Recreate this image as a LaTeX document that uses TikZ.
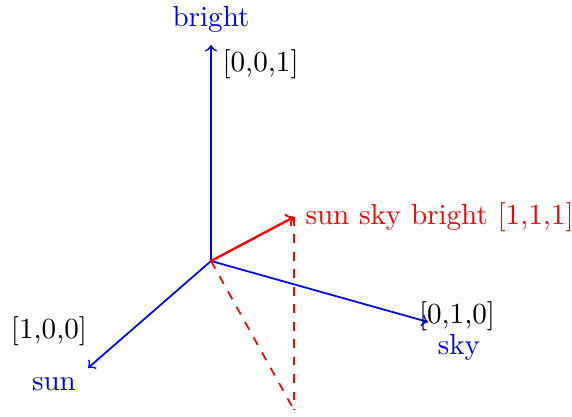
\documentclass[tikz,border=0pt]{standalone}
\usepackage{tikz}
\usetikzlibrary{positioning}
\tikzset{
  axis/.style={->,semithick,blue},
  vec/.style={->,thick,red},
  proj/.style={dashed,semithick,red},
  axislabel/.style={text=blue,inner sep=0pt},
  coordlabel/.style={text=black,inner sep=0pt}
}
\begin{document}
\begin{tikzpicture}[x=0.3436pt,y=-0.3436pt]
  \useasboundingbox (0,0) rectangle (572,417);

  % axes
  \coordinate (origin) at (211,261);
  \coordinate (bright-tip) at (211,45);
  \coordinate (sun-tip) at (88,368);
  \coordinate (sky-tip) at (428,322);
  \coordinate (sum-tip) at (294,217);
  \coordinate (foot) at (294,410);

  \draw[axis] (origin) -- (bright-tip);
  \draw[axis] (origin) -- (sun-tip);
  \draw[axis] (origin) -- (sky-tip);

  % the sum vector and its projection
  \draw[proj] (sum-tip) -- (foot);
  \draw[proj] (origin) -- (foot);
  \draw[vec] (origin) -- (sum-tip);

  % labels
  \node[axislabel] (bright-lbl) at (211,19) {bright};
  \node[coordlabel,anchor=west] (bright-val) at (222,64) {[0,0,1]};
  \node[axislabel] (sun-lbl) at (54,384) {sun};
  \node[coordlabel] (sun-val) at (49,331) {[1,0,0]};
  \node[axislabel] (sky-lbl) at (459,347) {sky};
  \node[coordlabel] (sky-val) at (457,316) {[0,1,0]};
  \node[coordlabel,text=red,anchor=west] (sum-lbl) at (305,217)
    {sun sky bright [1,1,1]};
\end{tikzpicture}
\end{document}
